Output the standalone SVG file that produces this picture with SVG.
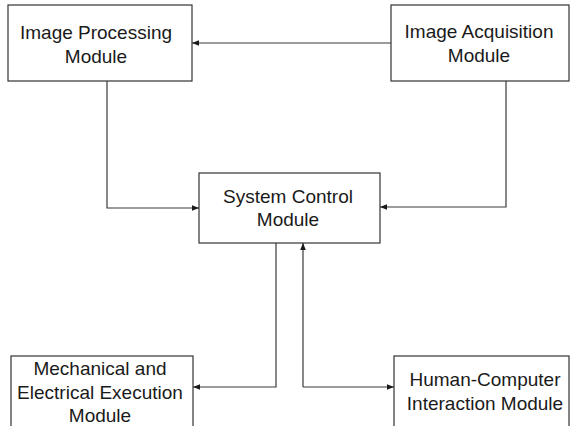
<svg xmlns="http://www.w3.org/2000/svg" width="571" height="426" viewBox="0 0 571 426">
  <style>
    .box { fill: #ffffff; stroke: #333333; stroke-width: 1.2; }
    .lbl { font-family: "Liberation Sans", Arial, sans-serif; font-size: 19px; fill: #1a1a1a; text-anchor: middle; }
    .wire { fill: none; stroke: #3a3a3a; stroke-width: 1.2; }
  </style>
  <defs>
    <marker id="arrow" viewBox="0 0 10 10" refX="10" refY="5" markerWidth="9" markerHeight="7" markerUnits="userSpaceOnUse" orient="auto">
      <path d="M0,1 L10,5 L0,9 Z" fill="#1a1a1a"/>
    </marker>
  </defs>
  <rect width="571" height="426" fill="#ffffff"/>

  <g id="connectors">
    <path class="wire" d="M391,43 H192" marker-end="url(#arrow)"/>
    <path class="wire" d="M107,81 V208 H199" marker-end="url(#arrow)"/>
    <path class="wire" d="M506,81 V207 H380" marker-end="url(#arrow)"/>
    <path class="wire" d="M276,243 V387 H193" marker-end="url(#arrow)"/>
    <path class="wire" d="M303,387 V243" marker-end="url(#arrow)"/>
    <path class="wire" d="M303,387 H394" marker-end="url(#arrow)"/>
  </g>

  <g id="image-processing">
    <rect class="box" x="8" y="5" width="184" height="76"/>
    <text class="lbl" x="96" y="39">Image Processing</text>
    <text class="lbl" x="96" y="63">Module</text>
  </g>

  <g id="image-acquisition">
    <rect class="box" x="391" y="5" width="178" height="76"/>
    <text class="lbl" x="479" y="38">Image Acquisition</text>
    <text class="lbl" x="479" y="62">Module</text>
  </g>

  <g id="system-control">
    <rect class="box" x="199" y="173" width="181" height="70"/>
    <text class="lbl" x="288" y="203">System Control</text>
    <text class="lbl" x="288" y="226">Module</text>
  </g>

  <g id="mechanical-electrical">
    <rect class="box" x="11" y="356" width="182" height="80"/>
    <text class="lbl" x="100" y="375">Mechanical and</text>
    <text class="lbl" x="100" y="399">Electrical Execution</text>
    <text class="lbl" x="100" y="422">Module</text>
  </g>

  <g id="human-computer">
    <rect class="box" x="394" y="356" width="175" height="80"/>
    <text class="lbl" x="485" y="386">Human-Computer</text>
    <text class="lbl" x="485" y="410">Interaction Module</text>
  </g>
</svg>
